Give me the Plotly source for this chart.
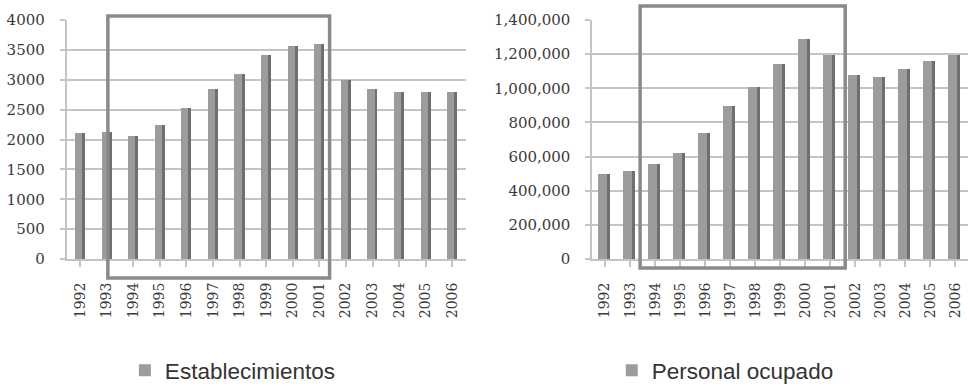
import plotly.graph_objects as go

# Annual series, 1992-2006
years = [str(y) for y in range(1992, 2007)]
establecimientos = [2100, 2120, 2050, 2250, 2520, 2840, 3100, 3420, 3570, 3600,
                    2990, 2840, 2790, 2800, 2790]
personal_ocupado = [500000, 518000, 558000, 618000, 738000, 895000, 1010000,
                    1140000, 1290000, 1195000, 1075000, 1065000, 1110000,
                    1160000, 1195000]

FRONT = "#9c9c9c"
SIDE = "#6f6f6f"
GRID = "#c4c4c4"
BOX = "#8a8a8a"
SERIF = "DejaVu Serif"
SANS = "Liberation Sans, Arial, sans-serif"

fig = go.Figure()


def add_column(values, name, xa, ya, legend, front_w, side_w):
    # front face of each column
    fig.add_trace(go.Bar(
        x=years, y=values, name=name, xaxis=xa, yaxis=ya, legend=legend,
        marker=dict(color=FRONT, line=dict(width=0)),
        width=front_w, offset=-front_w * 0.75, showlegend=True,
    ))
    # darker right-hand face for the depth effect
    fig.add_trace(go.Bar(
        x=years, y=values, xaxis=xa, yaxis=ya, hoverinfo="skip",
        marker=dict(color=SIDE, line=dict(width=0)),
        width=side_w, offset=front_w * 0.25, showlegend=False,
    ))


add_column(establecimientos, "Establecimientos", "x", "y", "legend", 0.27, 0.11)
add_column(personal_ocupado, "Personal ocupado", "x2", "y2", "legend2", 0.36, 0.12)

ydom = [0.329, 0.948]
xaxis_common = dict(
    type="category", range=[-0.5, 14.5], tickangle=-90,
    tickfont=dict(family=SERIF, size=14, color="#3a3a3a"),
    showgrid=False, showline=True, linecolor=GRID, linewidth=2,
    ticks="outside", ticklen=6, tickcolor=GRID, tickwidth=1.5,
    ticklabelstandoff=10, fixedrange=True,
)
yaxis_common = dict(
    showgrid=True, gridcolor=GRID, gridwidth=1.6,
    showline=True, linecolor=GRID, linewidth=2,
    ticks="outside", ticklen=5, tickcolor=GRID, tickwidth=1.5,
    tickfont=dict(family=SERIF, size=15, color="#3a3a3a"),
    zeroline=False, ticklabelstandoff=12,
    domain=ydom, fixedrange=True,
)
legend_font = dict(family=SANS, size=22.5, color="#333333")

fig.update_layout(
    width=968, height=386,
    margin=dict(l=0, r=0, t=0, b=0, autoexpand=False),
    paper_bgcolor="white", plot_bgcolor="white",
    barmode="overlay", bargap=0,
    xaxis=dict(domain=[0.069, 0.481], anchor="y", **xaxis_common),
    yaxis=dict(anchor="x", range=[0, 4000], dtick=500, **yaxis_common),
    xaxis2=dict(domain=[0.612, 1.0], anchor="y2", **xaxis_common),
    yaxis2=dict(anchor="x2", range=[0, 1400000], dtick=200000,
                tickformat=",", **yaxis_common),
    legend=dict(x=0.129, y=0.04, xanchor="left", yanchor="middle",
                itemwidth=30, font=legend_font, bgcolor="rgba(0,0,0,0)"),
    legend2=dict(x=0.632, y=0.04, xanchor="left", yanchor="middle",
                 itemwidth=30, font=legend_font, bgcolor="rgba(0,0,0,0)"),
    showlegend=True,
)

# highlighted span 1993-2001 on each panel
fig.add_shape(type="rect", xref="x domain", yref="y domain",
              x0=0.103, x1=0.659, y0=-0.079, y1=1.017,
              line=dict(color=BOX, width=3.5), fillcolor="rgba(0,0,0,0)")
fig.add_shape(type="rect", xref="x2 domain", yref="y2 domain",
              x0=0.127, x1=0.673, y0=-0.038, y1=1.059,
              line=dict(color=BOX, width=3.5), fillcolor="rgba(0,0,0,0)")

fig.write_html("out.html")
